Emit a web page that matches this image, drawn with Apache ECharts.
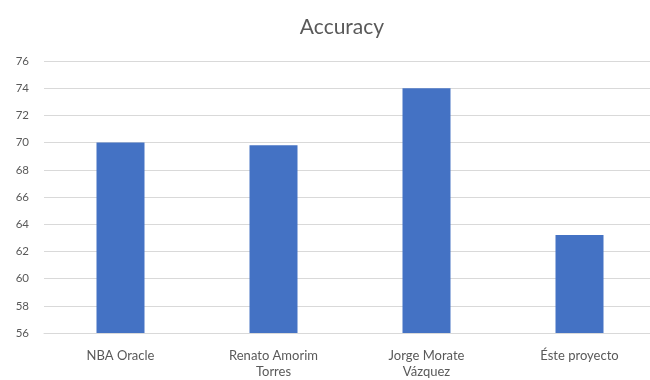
<!DOCTYPE html>
<html>
<head>
<meta charset="utf-8">
<script src="https://cdn.jsdelivr.net/npm/echarts@6/dist/echarts.min.js"></script>
<style>
  html, body { margin: 0; padding: 0; background: #ffffff; overflow: hidden; }
  #chart { width: 656px; height: 380px; }
</style>
</head>
<body>
<div id="chart"></div>
<script>
// Accuracy comparison of prediction models
const categories = ['NBA Oracle', 'Renato Amorim\nTorres', 'Jorge Morate\nVázquez', 'Éste proyecto'];
const accuracy = [70.0, 69.8, 74.0, 63.2];
const yMin = 56;
const yMax = 76;
const yStep = 2;

const chart = echarts.init(document.getElementById('chart'), null, { renderer: 'canvas' });
chart.setOption({
  animation: false,
  backgroundColor: '#ffffff',
  title: {
    text: 'Accuracy',
    left: 337,
    textAlign: 'center',
    top: 12,
    textStyle: { fontFamily: 'Lato', fontSize: 21, fontWeight: 'normal', color: '#595959' }
  },
  grid: { left: 44, right: 0, top: 61, bottom: 46 },
  xAxis: {
    type: 'category',
    data: categories,
    axisTick: { show: false },
    axisLine: { show: true, lineStyle: { color: '#d9d9d9', width: 1 } },
    axisLabel: {
      color: '#595959', fontFamily: 'Lato', fontSize: 13, margin: 15, lineHeight: 16,
      interval: 0
    }
  },
  yAxis: {
    type: 'value',
    min: yMin,
    max: yMax,
    interval: yStep,
    axisLine: { show: false },
    axisTick: { show: false },
    splitLine: { lineStyle: { color: '#d9d9d9', width: 1 } },
    axisLabel: { color: '#595959', fontFamily: 'Lato', fontSize: 11.5, margin: 15 }
  },
  series: [{
    type: 'bar',
    data: accuracy,
    barWidth: 48,
    itemStyle: { color: '#4472c4' }
  }]
});
</script>
</body>
</html>
